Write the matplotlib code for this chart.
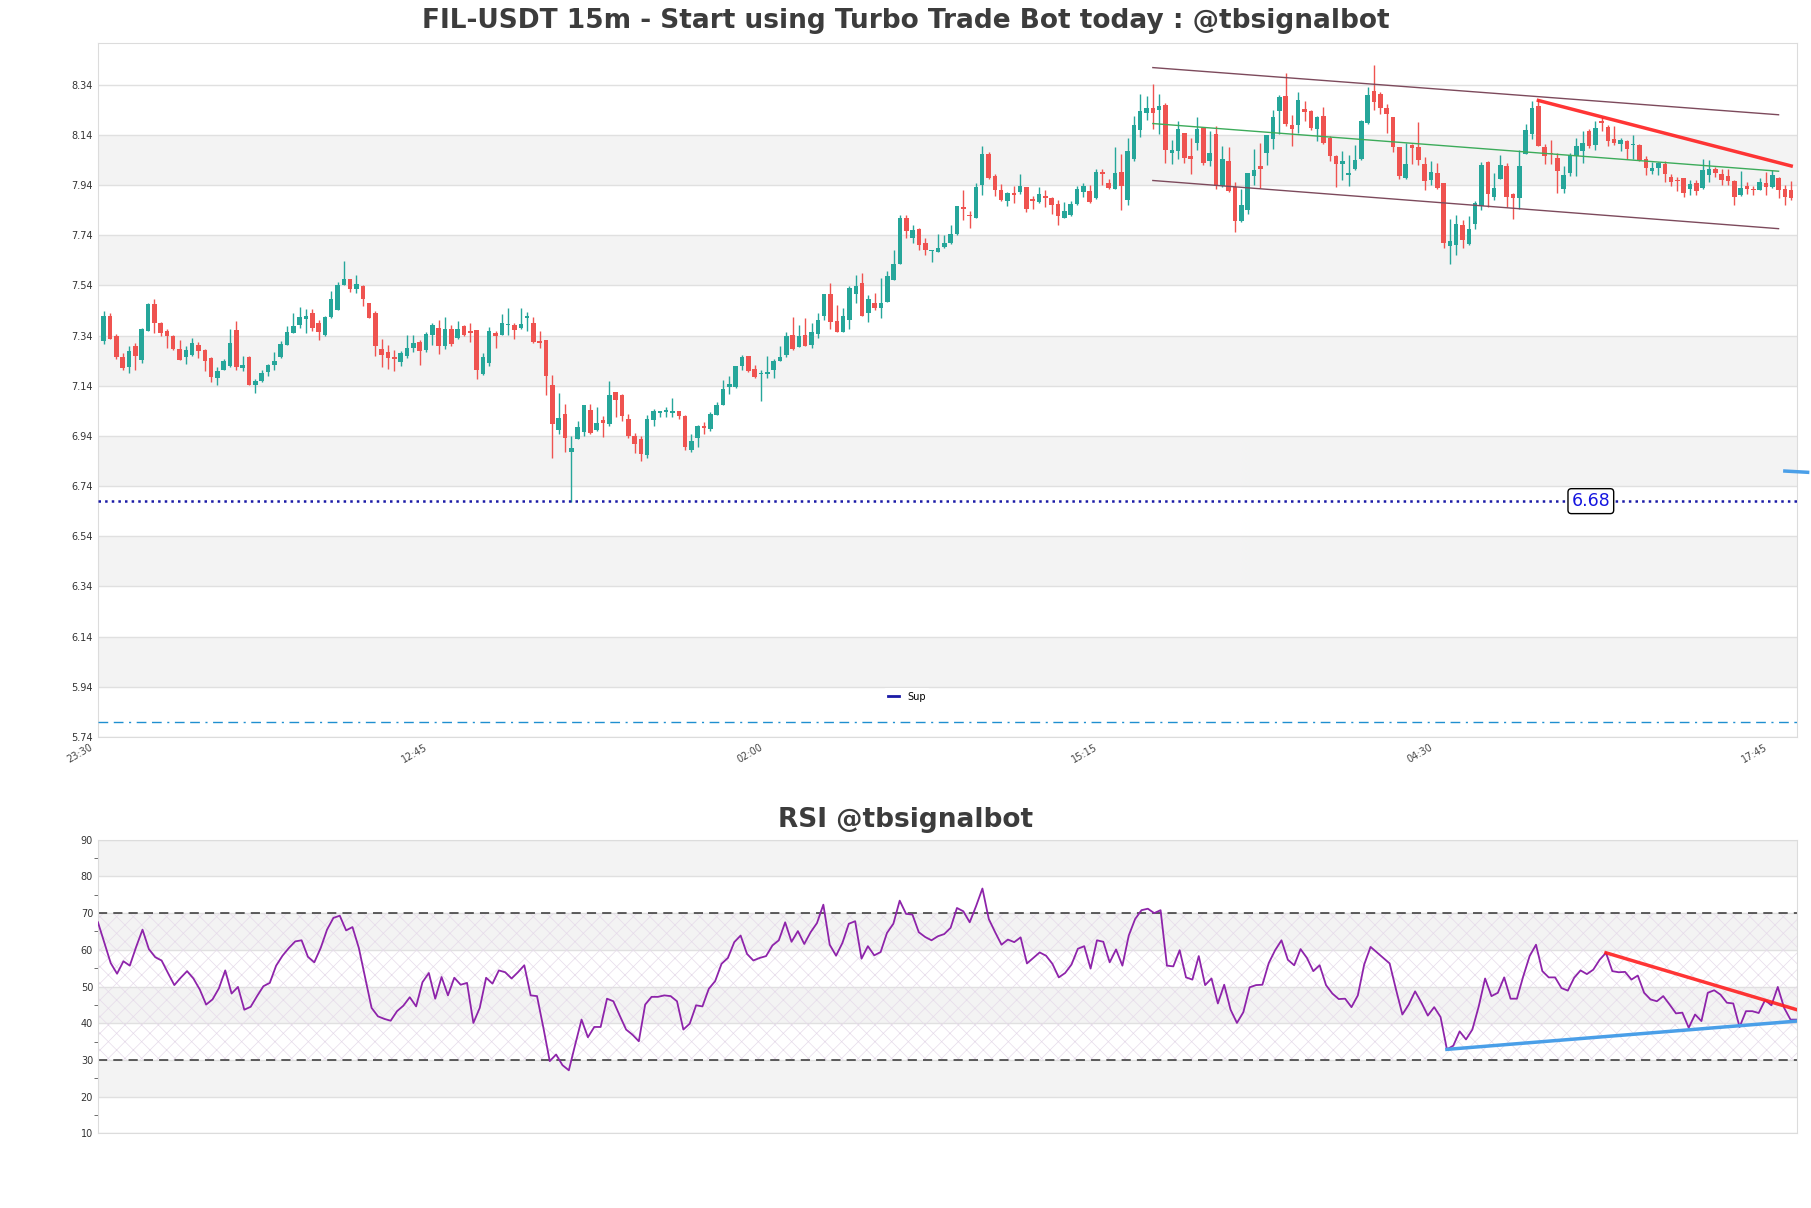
import numpy as np
import matplotlib
matplotlib.use('Agg')
import matplotlib.pyplot as plt
import matplotlib.transforms as mtransforms
from matplotlib.ticker import MultipleLocator

title = 'FIL-USDT 15m - Start using Turbo Trade Bot today : @tbsignalbot'
rsi_title = 'RSI @tbsignalbot'
xtick_labels = ['23:30', '12:45', '02:00', '15:15', '04:30', '17:45']
tick_step = 53

# velas de 15m
opens = [
    7.317, 7.417, 7.337, 7.254, 7.215, 7.298, 7.242, 7.359, 7.467, 7.390,
    7.360, 7.337, 7.288, 7.256, 7.262, 7.301, 7.282, 7.251, 7.172, 7.203,
    7.218, 7.361, 7.209, 7.254, 7.142, 7.158, 7.193, 7.222, 7.255, 7.304,
    7.352, 7.381, 7.406, 7.428, 7.390, 7.344, 7.414, 7.441, 7.541, 7.565,
    7.527, 7.538, 7.470, 7.430, 7.288, 7.274, 7.254, 7.235, 7.259, 7.292,
    7.315, 7.282, 7.344, 7.371, 7.299, 7.368, 7.332, 7.377, 7.360, 7.364,
    7.185, 7.229, 7.351, 7.344, 7.383, 7.381, 7.371, 7.411, 7.390, 7.318,
    7.321, 7.142, 6.962, 7.026, 6.876, 6.926, 6.956, 7.045, 6.962, 7.003,
    6.988, 7.114, 7.102, 7.009, 6.939, 6.926, 6.863, 7.003, 7.033, 7.036,
    7.033, 7.041, 7.020, 6.884, 6.930, 6.980, 6.967, 7.025, 7.065, 7.135,
    7.135, 7.219, 7.258, 7.206, 7.185, 7.186, 7.201, 7.238, 7.262, 7.341,
    7.295, 7.341, 7.304, 7.345, 7.417, 7.505, 7.398, 7.355, 7.401, 7.506,
    7.551, 7.428, 7.470, 7.448, 7.474, 7.563, 7.627, 7.810, 7.727, 7.766,
    7.709, 7.676, 7.673, 7.693, 7.707, 7.744, 7.851, 7.819, 7.809, 7.942,
    8.062, 7.975, 7.919, 7.877, 7.910, 7.912, 7.931, 7.883, 7.873, 7.895,
    7.888, 7.866, 7.809, 7.819, 7.865, 7.912, 7.915, 7.888, 7.992, 7.948,
    7.926, 7.991, 7.879, 8.045, 8.158, 8.227, 8.247, 8.238, 8.258, 8.068,
    8.074, 8.149, 8.054, 8.108, 8.167, 8.035, 8.142, 7.936, 8.035, 7.931,
    7.797, 7.839, 7.976, 8.015, 8.068, 8.125, 8.234, 8.294, 8.181, 8.178,
    8.242, 8.234, 8.162, 8.214, 8.128, 8.056, 8.024, 7.981, 8.003, 8.043,
    8.187, 8.313, 8.301, 8.247, 8.210, 8.092, 7.968, 8.101, 8.092, 8.022,
    7.959, 7.987, 7.948, 7.697, 7.700, 7.780, 7.704, 7.784, 7.857, 8.032,
    7.892, 7.965, 8.015, 7.903, 7.888, 8.062, 8.142, 8.254, 8.092, 8.069,
    8.048, 7.926, 7.989, 8.056, 8.076, 8.154, 8.098, 8.195, 8.171, 8.125,
    8.105, 8.114, 8.098, 8.101, 8.045, 7.995, 8.008, 8.025, 7.972, 7.960,
    7.968, 7.926, 7.948, 7.928, 7.981, 8.003, 7.985, 7.975, 7.955, 7.902,
    7.935, 7.926, 7.922, 7.950, 7.932, 7.968, 7.923, 7.919]
highs = [
    7.437, 7.428, 7.348, 7.269, 7.298, 7.312, 7.371, 7.468, 7.487, 7.394,
    7.365, 7.344, 7.324, 7.298, 7.332, 7.315, 7.288, 7.255, 7.213, 7.248,
    7.365, 7.398, 7.259, 7.258, 7.166, 7.202, 7.228, 7.273, 7.320, 7.379,
    7.428, 7.452, 7.445, 7.445, 7.401, 7.417, 7.516, 7.554, 7.636, 7.567,
    7.580, 7.541, 7.470, 7.438, 7.325, 7.302, 7.284, 7.279, 7.341, 7.341,
    7.321, 7.355, 7.390, 7.401, 7.412, 7.381, 7.398, 7.381, 7.392, 7.364,
    7.272, 7.374, 7.359, 7.425, 7.448, 7.390, 7.450, 7.434, 7.413, 7.359,
    7.321, 7.182, 7.112, 7.068, 6.939, 6.999, 7.065, 7.069, 7.056, 7.021,
    7.158, 7.114, 7.109, 7.029, 6.952, 6.939, 7.023, 7.048, 7.041, 7.056,
    7.091, 7.041, 7.023, 6.948, 6.983, 6.996, 7.036, 7.076, 7.162, 7.178,
    7.218, 7.262, 7.258, 7.222, 7.202, 7.258, 7.246, 7.298, 7.355, 7.412,
    7.381, 7.408, 7.390, 7.430, 7.505, 7.551, 7.461, 7.448, 7.538, 7.580,
    7.591, 7.501, 7.510, 7.570, 7.596, 7.680, 7.819, 7.822, 7.782, 7.770,
    7.730, 7.680, 7.746, 7.740, 7.780, 7.855, 7.919, 7.835, 7.948, 8.096,
    8.073, 7.985, 7.944, 7.912, 7.936, 7.984, 7.931, 7.895, 7.931, 7.922,
    7.892, 7.882, 7.873, 7.875, 7.936, 7.948, 7.939, 8.005, 8.005, 7.965,
    8.092, 8.065, 8.127, 8.214, 8.301, 8.295, 8.344, 8.301, 8.267, 8.118,
    8.194, 8.149, 8.129, 8.211, 8.171, 8.154, 8.174, 8.096, 8.092, 7.952,
    7.926, 7.987, 8.085, 8.108, 8.141, 8.240, 8.300, 8.387, 8.221, 8.311,
    8.274, 8.237, 8.214, 8.251, 8.134, 8.061, 8.074, 8.058, 8.098, 8.198,
    8.331, 8.420, 8.311, 8.264, 8.210, 8.092, 8.109, 8.105, 8.191, 8.052,
    8.037, 8.029, 7.948, 7.806, 7.819, 7.802, 7.815, 7.875, 8.032, 8.034,
    7.988, 8.058, 8.028, 7.908, 8.078, 8.185, 8.274, 8.278, 8.105, 8.121,
    8.069, 8.016, 8.069, 8.129, 8.154, 8.162, 8.195, 8.211, 8.178, 8.175,
    8.128, 8.118, 8.138, 8.105, 8.054, 8.032, 8.032, 8.035, 7.985, 7.972,
    7.968, 7.959, 7.959, 8.045, 8.041, 8.012, 8.003, 8.005, 7.959, 7.995,
    7.952, 7.936, 7.968, 7.990, 7.999, 7.972, 7.942, 7.955]
lows = [
    7.307, 7.325, 7.245, 7.201, 7.189, 7.202, 7.232, 7.358, 7.351, 7.339,
    7.291, 7.282, 7.242, 7.226, 7.258, 7.251, 7.198, 7.155, 7.142, 7.202,
    7.213, 7.204, 7.198, 7.142, 7.112, 7.155, 7.178, 7.201, 7.251, 7.301,
    7.352, 7.372, 7.352, 7.360, 7.321, 7.339, 7.408, 7.441, 7.541, 7.514,
    7.510, 7.458, 7.408, 7.259, 7.214, 7.205, 7.199, 7.219, 7.251, 7.274,
    7.224, 7.275, 7.301, 7.266, 7.288, 7.299, 7.325, 7.337, 7.315, 7.165,
    7.182, 7.219, 7.291, 7.341, 7.341, 7.325, 7.368, 7.357, 7.311, 7.291,
    7.105, 6.853, 6.948, 6.876, 6.677, 6.926, 6.940, 6.948, 6.959, 6.936,
    6.979, 7.016, 6.999, 6.930, 6.873, 6.841, 6.850, 6.980, 7.016, 7.016,
    7.016, 7.009, 6.883, 6.874, 6.897, 6.947, 6.960, 7.022, 7.062, 7.106,
    7.131, 7.202, 7.195, 7.169, 7.081, 7.172, 7.172, 7.238, 7.255, 7.281,
    7.295, 7.298, 7.291, 7.331, 7.401, 7.368, 7.355, 7.355, 7.368, 7.470,
    7.417, 7.394, 7.441, 7.408, 7.474, 7.563, 7.627, 7.727, 7.709, 7.680,
    7.660, 7.634, 7.673, 7.690, 7.704, 7.740, 7.800, 7.769, 7.809, 7.902,
    7.962, 7.897, 7.875, 7.857, 7.870, 7.906, 7.833, 7.843, 7.869, 7.853,
    7.826, 7.780, 7.809, 7.817, 7.859, 7.892, 7.870, 7.886, 7.942, 7.926,
    7.923, 7.839, 7.859, 8.035, 8.131, 8.198, 8.165, 8.145, 8.029, 8.025,
    8.043, 8.029, 7.985, 8.078, 8.019, 8.015, 7.926, 7.932, 7.912, 7.753,
    7.793, 7.826, 7.939, 7.928, 8.019, 8.085, 8.145, 8.175, 8.096, 8.149,
    8.195, 8.158, 8.114, 8.105, 8.035, 7.932, 7.959, 7.936, 7.999, 8.039,
    8.185, 8.238, 8.223, 8.147, 8.072, 7.963, 7.963, 8.025, 8.019, 7.919,
    7.939, 7.923, 7.687, 7.624, 7.660, 7.687, 7.700, 7.766, 7.842, 7.853,
    7.882, 7.963, 7.853, 7.806, 7.843, 8.062, 8.125, 8.096, 8.025, 8.022,
    7.908, 7.910, 7.976, 7.976, 8.028, 8.088, 8.078, 8.154, 8.096, 8.101,
    8.074, 8.045, 8.043, 8.035, 7.981, 7.983, 7.979, 7.952, 7.936, 7.915,
    7.892, 7.899, 7.899, 7.926, 7.952, 7.972, 7.939, 7.942, 7.859, 7.896,
    7.906, 7.902, 7.919, 7.899, 7.928, 7.889, 7.859, 7.879]
closes = [
    7.417, 7.328, 7.254, 7.211, 7.278, 7.259, 7.365, 7.467, 7.390, 7.351,
    7.337, 7.288, 7.242, 7.282, 7.312, 7.279, 7.239, 7.173, 7.198, 7.238,
    7.311, 7.215, 7.222, 7.142, 7.158, 7.189, 7.224, 7.238, 7.308, 7.353,
    7.380, 7.412, 7.417, 7.371, 7.355, 7.412, 7.485, 7.543, 7.564, 7.525,
    7.547, 7.486, 7.410, 7.299, 7.264, 7.251, 7.247, 7.272, 7.292, 7.312,
    7.279, 7.348, 7.381, 7.299, 7.368, 7.307, 7.368, 7.341, 7.352, 7.202,
    7.256, 7.360, 7.339, 7.392, 7.388, 7.361, 7.386, 7.417, 7.315, 7.311,
    7.178, 6.988, 7.012, 6.932, 6.890, 6.975, 7.065, 6.952, 6.993, 6.993,
    7.102, 7.083, 7.021, 6.940, 6.906, 6.869, 7.009, 7.041, 7.041, 7.045,
    7.041, 7.020, 6.894, 6.919, 6.979, 6.970, 7.029, 7.062, 7.126, 7.146,
    7.218, 7.254, 7.199, 7.175, 7.189, 7.193, 7.238, 7.254, 7.337, 7.285,
    7.337, 7.298, 7.353, 7.401, 7.505, 7.394, 7.355, 7.417, 7.530, 7.538,
    7.417, 7.485, 7.450, 7.470, 7.576, 7.627, 7.810, 7.757, 7.760, 7.700,
    7.680, 7.680, 7.690, 7.709, 7.746, 7.855, 7.846, 7.815, 7.931, 8.065,
    7.966, 7.922, 7.879, 7.910, 7.902, 7.935, 7.843, 7.878, 7.903, 7.888,
    7.859, 7.817, 7.835, 7.863, 7.926, 7.936, 7.873, 7.992, 7.984, 7.928,
    7.987, 7.935, 8.074, 8.178, 8.234, 8.247, 8.227, 8.254, 8.078, 8.078,
    8.162, 8.048, 8.043, 8.162, 8.029, 8.069, 7.936, 8.043, 7.915, 7.797,
    7.859, 7.987, 7.999, 8.003, 8.138, 8.210, 8.290, 8.185, 8.165, 8.278,
    8.231, 8.167, 8.211, 8.108, 8.056, 8.024, 8.035, 7.987, 8.041, 8.194,
    8.297, 8.271, 8.247, 8.223, 8.092, 7.976, 8.024, 8.089, 8.041, 7.955,
    7.992, 7.930, 7.707, 7.716, 7.784, 7.720, 7.764, 7.870, 8.021, 7.903,
    7.928, 8.019, 7.892, 7.890, 8.015, 8.158, 8.247, 8.096, 8.056, 8.062,
    7.995, 7.981, 8.059, 8.094, 8.109, 8.096, 8.167, 8.189, 8.114, 8.109,
    8.118, 8.085, 8.101, 8.039, 8.009, 8.008, 8.029, 7.984, 7.952, 7.956,
    7.908, 7.946, 7.916, 7.999, 8.003, 7.989, 7.959, 7.955, 7.892, 7.928,
    7.926, 7.920, 7.952, 7.932, 7.979, 7.919, 7.892, 7.888]

rsi = [
    67.5, 61.9, 56.4, 53.5, 56.9, 55.7, 60.8, 65.5, 60.2, 58.0,
    57.1, 53.7, 50.4, 52.4, 54.2, 52.2, 49.2, 45.1, 46.5, 49.5,
    54.4, 48.1, 49.9, 43.7, 44.5, 47.4, 50.1, 51.0, 55.7, 58.4,
    60.5, 62.3, 62.6, 58.1, 56.6, 60.5, 65.5, 68.7, 69.3, 65.3,
    66.2, 60.5, 52.4, 44.2, 41.9, 41.2, 40.7, 43.3, 44.8, 47.1,
    44.6, 51.2, 53.7, 46.7, 52.6, 47.6, 52.4, 50.5, 51.0, 40.1,
    44.2, 52.4, 50.8, 54.4, 53.9, 52.2, 53.9, 55.8, 47.6, 47.4,
    38.8, 29.7, 31.5, 28.6, 27.2, 34.2, 41.0, 36.2, 39.0, 39.0,
    46.7, 46.0, 42.1, 38.3, 36.9, 35.1, 45.1, 47.2, 47.2, 47.6,
    47.4, 46.0, 38.3, 39.9, 44.9, 44.6, 49.4, 51.5, 56.2, 57.8,
    62.1, 63.9, 58.9, 57.1, 57.8, 58.3, 61.2, 62.6, 67.5, 62.2,
    65.1, 61.6, 64.8, 67.3, 72.3, 61.4, 58.4, 61.9, 67.1, 67.8,
    57.6, 61.0, 58.5, 59.4, 64.6, 67.1, 73.4, 69.8, 69.6, 64.8,
    63.5, 62.6, 63.7, 64.3, 66.0, 71.4, 70.5, 67.5, 71.9, 76.7,
    68.4, 64.8, 61.4, 62.8, 62.1, 63.4, 56.3, 57.8, 59.3, 58.4,
    56.2, 52.5, 53.7, 56.0, 60.3, 61.0, 54.9, 62.6, 62.2, 56.6,
    60.1, 55.7, 63.9, 68.4, 70.8, 71.2, 70.0, 70.8, 55.7, 55.5,
    59.9, 52.5, 51.9, 58.3, 50.4, 52.2, 45.4, 50.5, 43.7, 40.1,
    43.0, 49.8, 50.4, 50.5, 56.4, 59.9, 62.6, 57.3, 55.8, 60.2,
    57.8, 54.2, 55.8, 50.4, 48.1, 46.6, 46.7, 44.4, 47.6, 56.0,
    60.8, 59.3, 57.8, 56.3, 49.2, 42.4, 45.1, 48.7, 45.6, 42.1,
    44.4, 41.7, 32.9, 33.9, 37.8, 35.6, 38.3, 44.6, 52.2, 47.4,
    48.3, 52.5, 46.7, 46.7, 52.8, 58.3, 61.4, 54.2, 52.5, 52.5,
    49.6, 48.9, 52.4, 54.4, 53.4, 54.6, 57.3, 59.2, 54.2, 53.9,
    54.0, 51.9, 53.0, 48.3, 46.5, 46.0, 47.4, 45.1, 42.7, 42.9,
    38.8, 42.4, 40.6, 48.3, 49.0, 47.8, 45.6, 45.4, 39.0, 43.3,
    43.3, 42.8, 46.3, 44.9, 49.9, 44.2, 41.0, 41.0]

support = 6.68
lower_dash = 5.80
channel_x = [166, 265]
channel_top = [8.408, 8.220]
channel_mid = [8.185, 7.995]
channel_bot = [7.958, 7.766]
trend_x = [227, 267]
trend_y = [8.277, 8.016]
stray_x = [266, 269.6]
stray_y = [6.800, 6.795]
rsi_res_x = [237, 267]
rsi_res_y = [59.2, 43.7]
rsi_sup_x = [212, 267]
rsi_sup_y = [32.9, 40.6]

GREEN, RED = '#26a69a', '#ef5350'
plt.rcParams['hatch.linewidth'] = 0.5


def style_axes(ax):
    for s in ax.spines.values():
        s.set_color('#dcdcdc')
    ax.set_axisbelow(True)
    ax.grid(axis='y', color='#e0e0e0', linewidth=1)
    ax.tick_params(axis='both', labelsize=7, labelcolor='#333333', length=0)


def plot_candles(ax):
    o, h, l, c = map(np.array, (opens, highs, lows, closes))
    x = np.arange(len(c))
    colors = np.where(c >= o, GREEN, RED)
    ax.vlines(x, l, h, colors=colors, linewidth=1, zorder=3)
    ax.bar(x, np.maximum(np.abs(c - o), 0.004), bottom=np.minimum(o, c),
           width=0.72, color=colors, linewidth=0, zorder=4)


fig = plt.figure(figsize=(18.11, 12.08), dpi=100)
ax = fig.add_axes([0.0541, 0.3899, 0.9381, 0.5745])
ax2 = fig.add_axes([0.0541, 0.0617, 0.9381, 0.2432])

# grafico de precos
style_axes(ax)
yticks = np.round(np.arange(5.74, 8.35, 0.2), 2)
for lo in yticks[1:-1:2]:
    ax.axhspan(lo, lo + 0.2, color='#f3f3f3', linewidth=0, zorder=0)
plot_candles(ax)
n = len(closes)
ax.axhline(support, color='#1a1aa6', linestyle=':', linewidth=1.8, label='Sup', zorder=5)
ax.axhline(lower_dash, color='#1f8fd0', linestyle=(0, (7, 4, 7, 4, 1.5, 4)), linewidth=1, zorder=5)
ax.text(235.3, support, f'{support:.2f}', color='#1515e0', fontsize=12.5, ha='center', va='center',
        bbox=dict(boxstyle='round,pad=0.2', fc='white', ec='black', lw=1), zorder=6)
ax.plot(channel_x, channel_top, color='#7d4a5c', linewidth=1, zorder=5)
ax.plot(channel_x, channel_bot, color='#7d4a5c', linewidth=1, zorder=5)
ax.plot(channel_x, channel_mid, color='#3cab5a', linewidth=1, zorder=5)
ax.plot(trend_x, trend_y, color='#ff1f1f', linewidth=2.5, alpha=0.9, zorder=6)
ax.plot(stray_x, stray_y, color='#4a9fe8', linewidth=2.5, clip_on=False, zorder=6)
ax.set_xlim(-0.9, n - 0.1)
ax.set_ylim(5.74, 8.506)
ax.set_yticks(yticks)
ax.set_yticklabels([f'{v:.2f}' for v in yticks])
ax.set_xticks(np.arange(len(xtick_labels)) * tick_step)
ax.set_xticklabels(xtick_labels, rotation=30, ha='right', color='#444444')
shift = mtransforms.ScaledTranslation(-0.09, 0, fig.dpi_scale_trans)
for lbl in ax.get_xticklabels():
    lbl.set_transform(lbl.get_transform() + shift)
leg = ax.legend(loc='center', bbox_to_anchor=(0.476, 0.058), fontsize=7, handlelength=1.2,
                edgecolor='none', framealpha=0.9)
for line in leg.get_lines():
    line.set_linestyle('-')
    line.set_linewidth(2)

# RSI
style_axes(ax2)
for lo in [20, 40, 60, 80]:
    ax2.axhspan(lo, lo + 10, color='#f3f3f3', linewidth=0, zorder=0)
ax2.axhspan(30, 70, facecolor='none', edgecolor='#e6dbea', hatch='xx', linewidth=0, zorder=1)
ax2.axhline(70, color='#333333', linestyle=(0, (6, 4)), linewidth=1.1, zorder=2)
ax2.axhline(30, color='#333333', linestyle=(0, (6, 4)), linewidth=1.1, zorder=2)
ax2.plot(np.arange(len(rsi)), rsi, color='#8e24aa', linewidth=1.3, zorder=3)
ax2.plot(rsi_res_x, rsi_res_y, color='#ff1f1f', linewidth=2.5, alpha=0.9, zorder=4)
ax2.plot(rsi_sup_x, rsi_sup_y, color='#4a9fe8', linewidth=2.5, zorder=4)
ax2.set_xlim(0, len(rsi) - 1)
ax2.set_ylim(10, 90)
ax2.set_yticks(range(10, 91, 10))
ax2.yaxis.set_minor_locator(MultipleLocator(5))
ax2.tick_params(axis='y', which='minor', length=3, color='#555555')
ax2.set_xticks([])

fig.text(0.5, 0.9825, title, ha='center', va='center', fontsize=19, fontweight='bold', color='#3c3c3c')
fig.text(0.5, 0.3212, rsi_title, ha='center', va='center', fontsize=19, fontweight='bold', color='#3c3c3c')

fig.savefig('out.png', dpi=100)
